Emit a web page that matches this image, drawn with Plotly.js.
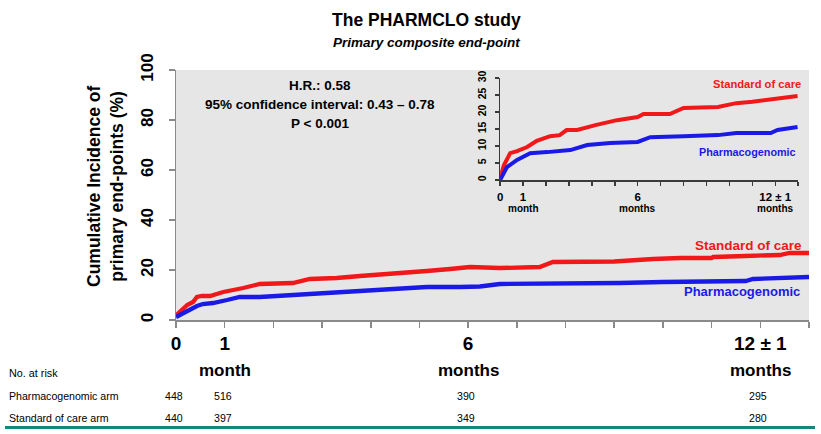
<!DOCTYPE html>
<html><head><meta charset="utf-8">
<script src="https://cdn.plot.ly/plotly-3.0.1.min.js"></script>
<style>html,body{margin:0;padding:0;background:#fff;}#chart{width:821px;height:434px;}</style>
</head><body><div id="chart"></div>
<script>
// ---- Main chart data (months, cumulative incidence %) ----
const redMonths = [0, 0.12, 0.23, 0.35, 0.43, 0.53, 0.7, 0.97, 1.2, 1.38, 1.72, 2.0, 2.4, 2.75, 3.3, 3.78, 4.46, 5.15, 5.63, 6.04, 6.65, 7.2, 7.47, 7.74, 8.3, 9.0, 9.8, 10.35, 11.0, 11.03, 11.7, 12.4, 12.6, 13.0];
const redMain   = [1.8, 4, 6, 7.2, 9.2, 9.6, 9.6, 11.2, 12, 12.8, 14.4, 14.6, 14.8, 16.4, 16.8, 17.6, 18.8, 19.6, 20.4, 21.2, 20.8, 20.8, 21.2, 23.2, 23.2, 23.4, 24.4, 24.8, 24.8, 25.2, 25.6, 26, 26.8, 26.8];
const blueMonths = [0, 0.23, 0.43, 0.55, 0.76, 1.05, 1.31, 1.72, 2.4, 3.1, 3.78, 4.46, 5.15, 5.83, 6.24, 6.65, 7.06, 8.3, 9.1, 10.0, 11.7, 11.85, 12.4, 13.0];
const blueMain   = [1.2, 3.6, 5.6, 6.4, 6.8, 8, 9.2, 9.2, 10, 10.8, 11.6, 12.4, 13.2, 13.2, 13.4, 14.4, 14.4, 14.4, 14.8, 15.2, 15.6, 16.4, 16.8, 17.2];

// ---- Inset data ----
const insetRedMonths = [0, 0.17, 0.44, 0.74, 1.18, 1.6, 2.18, 2.6, 2.9, 3.36, 4.2, 5.1, 6.0, 6.25, 7.4, 8.0, 9.5, 10.3, 11.0, 12.1, 12.97];
const insetRed       = [0.6, 4.4, 7.9, 8.5, 9.7, 11.5, 12.9, 13.2, 14.7, 14.7, 16.2, 17.6, 18.5, 19.4, 19.4, 21.2, 21.5, 22.6, 23, 23.8, 24.7];
const insetBlueMonths = [0, 0.3, 0.74, 1.31, 2.05, 3.06, 3.8, 4.8, 6.0, 6.55, 8.0, 9.5, 10.3, 11.8, 12.1, 12.97];
const insetBlue       = [0, 3.8, 5.9, 7.9, 8.2, 8.8, 10.3, 10.9, 11.2, 12.6, 12.9, 13.2, 13.8, 13.8, 14.7, 15.6];

// ---- Ticks ----
const monthTickVals = [0,1,2,3,4,5,6,7,8,9,10,11,12,13];
const monthTickText = ['0','1','','','','','6','','','','','','12 ± 1',''];
const unitMonths = [1,6,12];
const unitLabels = ['month','months','months'];
const mainYTicks = [0,20,40,60,80,100];
const insetYTicks = [0,5,10,15,20,25,30];

// ---- Number at risk ----
const riskMonths = [0,1,6,12];
const pharmRisk = [448,516,390,295];
const socRisk = [440,397,349,280];
const riskRowLabels = ['Pharmacogenomic arm','Standard of care arm'];

// ---- Text ----
const hrLines = ['H.R.: 0.58','95% confidence interval: 0.43 – 0.78','P &lt; 0.001'];
const seriesNames = ['Standard of care','Pharmacogenomic'];

const FONT = '"Liberation Sans", Arial, sans-serif';
const RED = '#f01818', BLUE = '#1a1ae6';
const AXG = '#8a8a8a', INAX = '#3a3a3a';

const traces = [
  {x: redMonths, y: redMain, xaxis:'x', yaxis:'y', mode:'lines', line:{color:RED, width:4.3}, hoverinfo:'skip', name:seriesNames[0]},
  {x: blueMonths, y: blueMain, xaxis:'x', yaxis:'y', mode:'lines', line:{color:BLUE, width:4.3}, hoverinfo:'skip', name:seriesNames[1]},
  {x: insetRedMonths, y: insetRed, xaxis:'x2', yaxis:'y2', mode:'lines', line:{color:RED, width:4}, hoverinfo:'skip', name:seriesNames[0]},
  {x: insetBlueMonths, y: insetBlue, xaxis:'x2', yaxis:'y2', mode:'lines', line:{color:BLUE, width:4}, hoverinfo:'skip', name:seriesNames[1]}
];

// helpers for paper coords (plot area: x 176..809, y 70..320)
const px = v => (v - 176) / 633;
const py = v => (320 - v) / 250;

const ann = [];
const txt = (o) => ann.push(Object.assign({showarrow:false, xanchor:'center', yanchor:'middle'}, o));
txt({xref:'paper', yref:'paper', x:px(426), y:py(20), text:'<b>The PHARMCLO study</b>', font:{family:FONT, size:17.5, color:'#000'}});
txt({xref:'paper', yref:'paper', x:px(426), y:py(43), text:'<b><i>Primary composite end-point</i></b>', font:{family:FONT, size:13.5, color:'#000'}});
const hrY = [85, 104, 123];
hrLines.forEach((t,i) => txt({xref:'paper', yref:'paper', x:px(320), y:py(hrY[i]), text:'<b>'+t+'</b>', font:{family:FONT, size:13.5, color:'#000'}}));
txt({xref:'paper', yref:'paper', x:px(105), y:py(187), text:'<b>Cumulative Incidence of<br>primary end-points (%)</b>', textangle:-90, font:{family:FONT, size:17.5, color:'#000'}});
// axis unit labels (second line under tick numbers)
unitLabels.forEach((t,i) => txt({xref:'x', yref:'paper', x:unitMonths[i], y:py(370), text:'<b>'+t+'</b>', font:{family:FONT, size:17, color:'#000'}}));
unitLabels.forEach((t,i) => txt({xref:'x2', yref:'paper', x:unitMonths[i], y:py(208), text:'<b>'+t+'</b>', font:{family:FONT, size:10, color:'#000'}}));
// series labels main
txt({xref:'x', yref:'y', x:11.75, y:30, text:'<b>'+seriesNames[0]+'</b>', font:{family:FONT, size:13.5, color:RED}});
txt({xref:'x', yref:'y', x:11.62, y:11.6, text:'<b>'+seriesNames[1]+'</b>', font:{family:FONT, size:13, color:BLUE}});
// series labels inset
txt({xref:'x2', yref:'y2', x:11.22, y:28.2, text:'<b>'+seriesNames[0]+'</b>', font:{family:FONT, size:11.2, color:RED}});
txt({xref:'x2', yref:'y2', x:10.77, y:8.2, text:'<b>'+seriesNames[1]+'</b>', font:{family:FONT, size:10.8, color:BLUE}});
// risk table
txt({xref:'paper', yref:'paper', x:px(7), y:py(373), text:'No. at risk', xanchor:'left', font:{family:FONT, size:10.8, color:'#000'}});
const rowY = [396, 418];
riskRowLabels.forEach((t,i) => txt({xref:'paper', yref:'paper', x:px(7), y:py(rowY[i]), text:t, xanchor:'left', font:{family:FONT, size:10.6, color:'#000'}}));
[pharmRisk, socRisk].forEach((row, r) => row.forEach((v,i) => txt({xref:'x', yref:'paper', x:riskMonths[i], xshift:-2, y:py(rowY[r]), text:String(v), font:{family:FONT, size:10.6, color:'#000'}})));

const layout = {
  width: 821, height: 434,
  margin: {l:176, r:12, t:70, b:114, pad:0},
  paper_bgcolor:'#ffffff', plot_bgcolor:'#e6e6e6',
  showlegend:false,
  xaxis: {domain:[0,1], range:[0,13], tickmode:'array', tickvals:monthTickVals, ticktext:monthTickText, tickangle:0,
    ticks:'outside', ticklen:6, tickwidth:1.5, tickcolor:AXG, showline:true, linecolor:AXG, linewidth:1.5,
    showgrid:false, zeroline:false, fixedrange:true, ticklabelstandoff:0,
    tickfont:{family:FONT, size:19, color:'#000', weight:'bold'}},
  yaxis: {domain:[0,1], range:[0,100], tickmode:'array', tickvals:mainYTicks, ticks:'outside', ticklen:6, tickwidth:1.5,
    tickcolor:AXG, showline:true, linecolor:AXG, linewidth:1.5, showgrid:false, zeroline:false, tickangle:-90,
    ticklabelstandoff:9, tickfont:{family:FONT, size:17, color:'#000', weight:'bold'}},
  xaxis2: {domain:[0.512,0.983], anchor:'y2', range:[0,13], tickmode:'array', tickvals:monthTickVals, ticktext:monthTickText, tickangle:0,
    ticks:'outside', ticklen:4, tickwidth:1.5, tickcolor:INAX, showline:true, linecolor:INAX, linewidth:1.5,
    showgrid:false, zeroline:false, ticklabelstandoff:2, tickfont:{family:FONT, size:11.5, color:'#000', weight:'bold'}},
  yaxis2: {domain:[0.56,0.968], anchor:'x2', range:[0,30], tickmode:'array', tickvals:insetYTicks, ticks:'outside', ticklen:4,
    tickwidth:1.5, tickcolor:INAX, showline:true, linecolor:INAX, linewidth:1.5, showgrid:false, zeroline:false,
    tickangle:-90, ticklabelstandoff:4, tickfont:{family:FONT, size:10.5, color:'#000', weight:'bold'}},
  annotations: ann,
  shapes: [{type:'line', xref:'paper', yref:'paper', x0:px(5), x1:px(815), y0:py(427.5), y1:py(427.5), line:{color:'#13877e', width:3}}]
};

Plotly.newPlot('chart', traces, layout, {staticPlot:true, displayModeBar:false});
</script>
</body></html>
